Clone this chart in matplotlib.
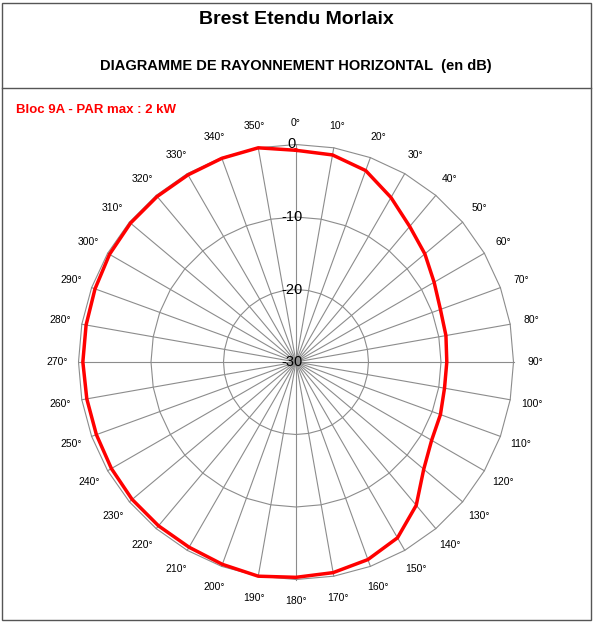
import numpy as np
import matplotlib.pyplot as plt
from matplotlib.patches import Rectangle

plt.rcParams['font.family'] = ['Liberation Sans', 'DejaVu Sans']

# ---------- data ----------
angles_deg = list(range(0, 360, 10))
gain_db = [-0.8, -1.0, -1.9, -3.8, -5.6, -6.8, -8.0, -8.8, -9.0, -9.2,
           -9.2, -8.8, -8.4, -7.0, -4.2, -2.0, -1.0, -0.5, -0.3, 0.0,
           -0.3, -0.5, -0.5, -0.5, -0.6, -0.7, -0.7, -0.6, -0.6, -0.5,
           -0.3, -0.2, -0.2, -0.2, -0.1, 0.0]
ring_values = [0, -10, -20, -30]
r_min = -30
# --------------------------

W, H = 594, 622
fig = plt.figure(figsize=(W / 100, H / 100), dpi=100)

# frame and title box
fig.patches.append(Rectangle((2 / W, 2 / H), (W - 5) / W, (H - 5) / H, transform=fig.transFigure,
                             fill=False, edgecolor='#555555', linewidth=1))
fig.add_artist(plt.Line2D([2 / W, (W - 3) / W], [1 - 88 / H, 1 - 88 / H], color='#555555', linewidth=1))
fig.text(296 / W, 1 - 20 / H, "Brest Etendu Morlaix", ha='center', va='center', fontsize=14, fontweight='bold')
fig.text(296 / W, 1 - 66 / H, "DIAGRAMME DE RAYONNEMENT HORIZONTAL  (en dB)", ha='center', va='center',
         fontsize=10.5, fontweight='bold')
fig.text(16 / W, 1 - 110 / H, "Bloc 9A - PAR max : 2 kW", ha='left', va='center', fontsize=9.5,
         fontweight='bold', color='#ff0000')

# radar axes: center at pixel (296, 362), 7.25 px per dB
cx, cy, half = 296, 362, 260
scale = 7.25
ax = fig.add_axes([(cx - half) / W, (H - cy - half) / H, 2 * half / W, 2 * half / H])
lim = half / scale
ax.set_xlim(-lim, lim)
ax.set_ylim(-lim, lim)
ax.set_aspect('equal')
ax.axis('off')

theta = np.radians(angles_deg)
theta_c = np.append(theta, theta[0])
r_max = ring_values[0] - r_min

# grid polygons
for v in ring_values[:-1]:
    r = v - r_min
    ax.plot(r * np.sin(theta_c), r * np.cos(theta_c), color='#8c8c8c', linewidth=0.8)
# spokes
for t in theta:
    ax.plot([0, r_max * np.sin(t)], [0, r_max * np.cos(t)], color='#8c8c8c', linewidth=0.8)

# ring labels
for v in ring_values:
    ax.text(-0.6, v - r_min, str(v), ha='center', va='center', fontsize=10.5)

# angle labels
for a, t in zip(angles_deg, theta):
    rl = r_max + 3.0
    ax.text(rl * np.sin(t), rl * np.cos(t), f"{a}°", ha='center', va='center', fontsize=7.5)

# pattern
r = np.array(gain_db) - r_min
r_c = np.append(r, r[0])
ax.plot(r_c * np.sin(theta_c), r_c * np.cos(theta_c), color='#ff0000', linewidth=2.5, zorder=5)

fig.savefig('out.png', dpi=100)
